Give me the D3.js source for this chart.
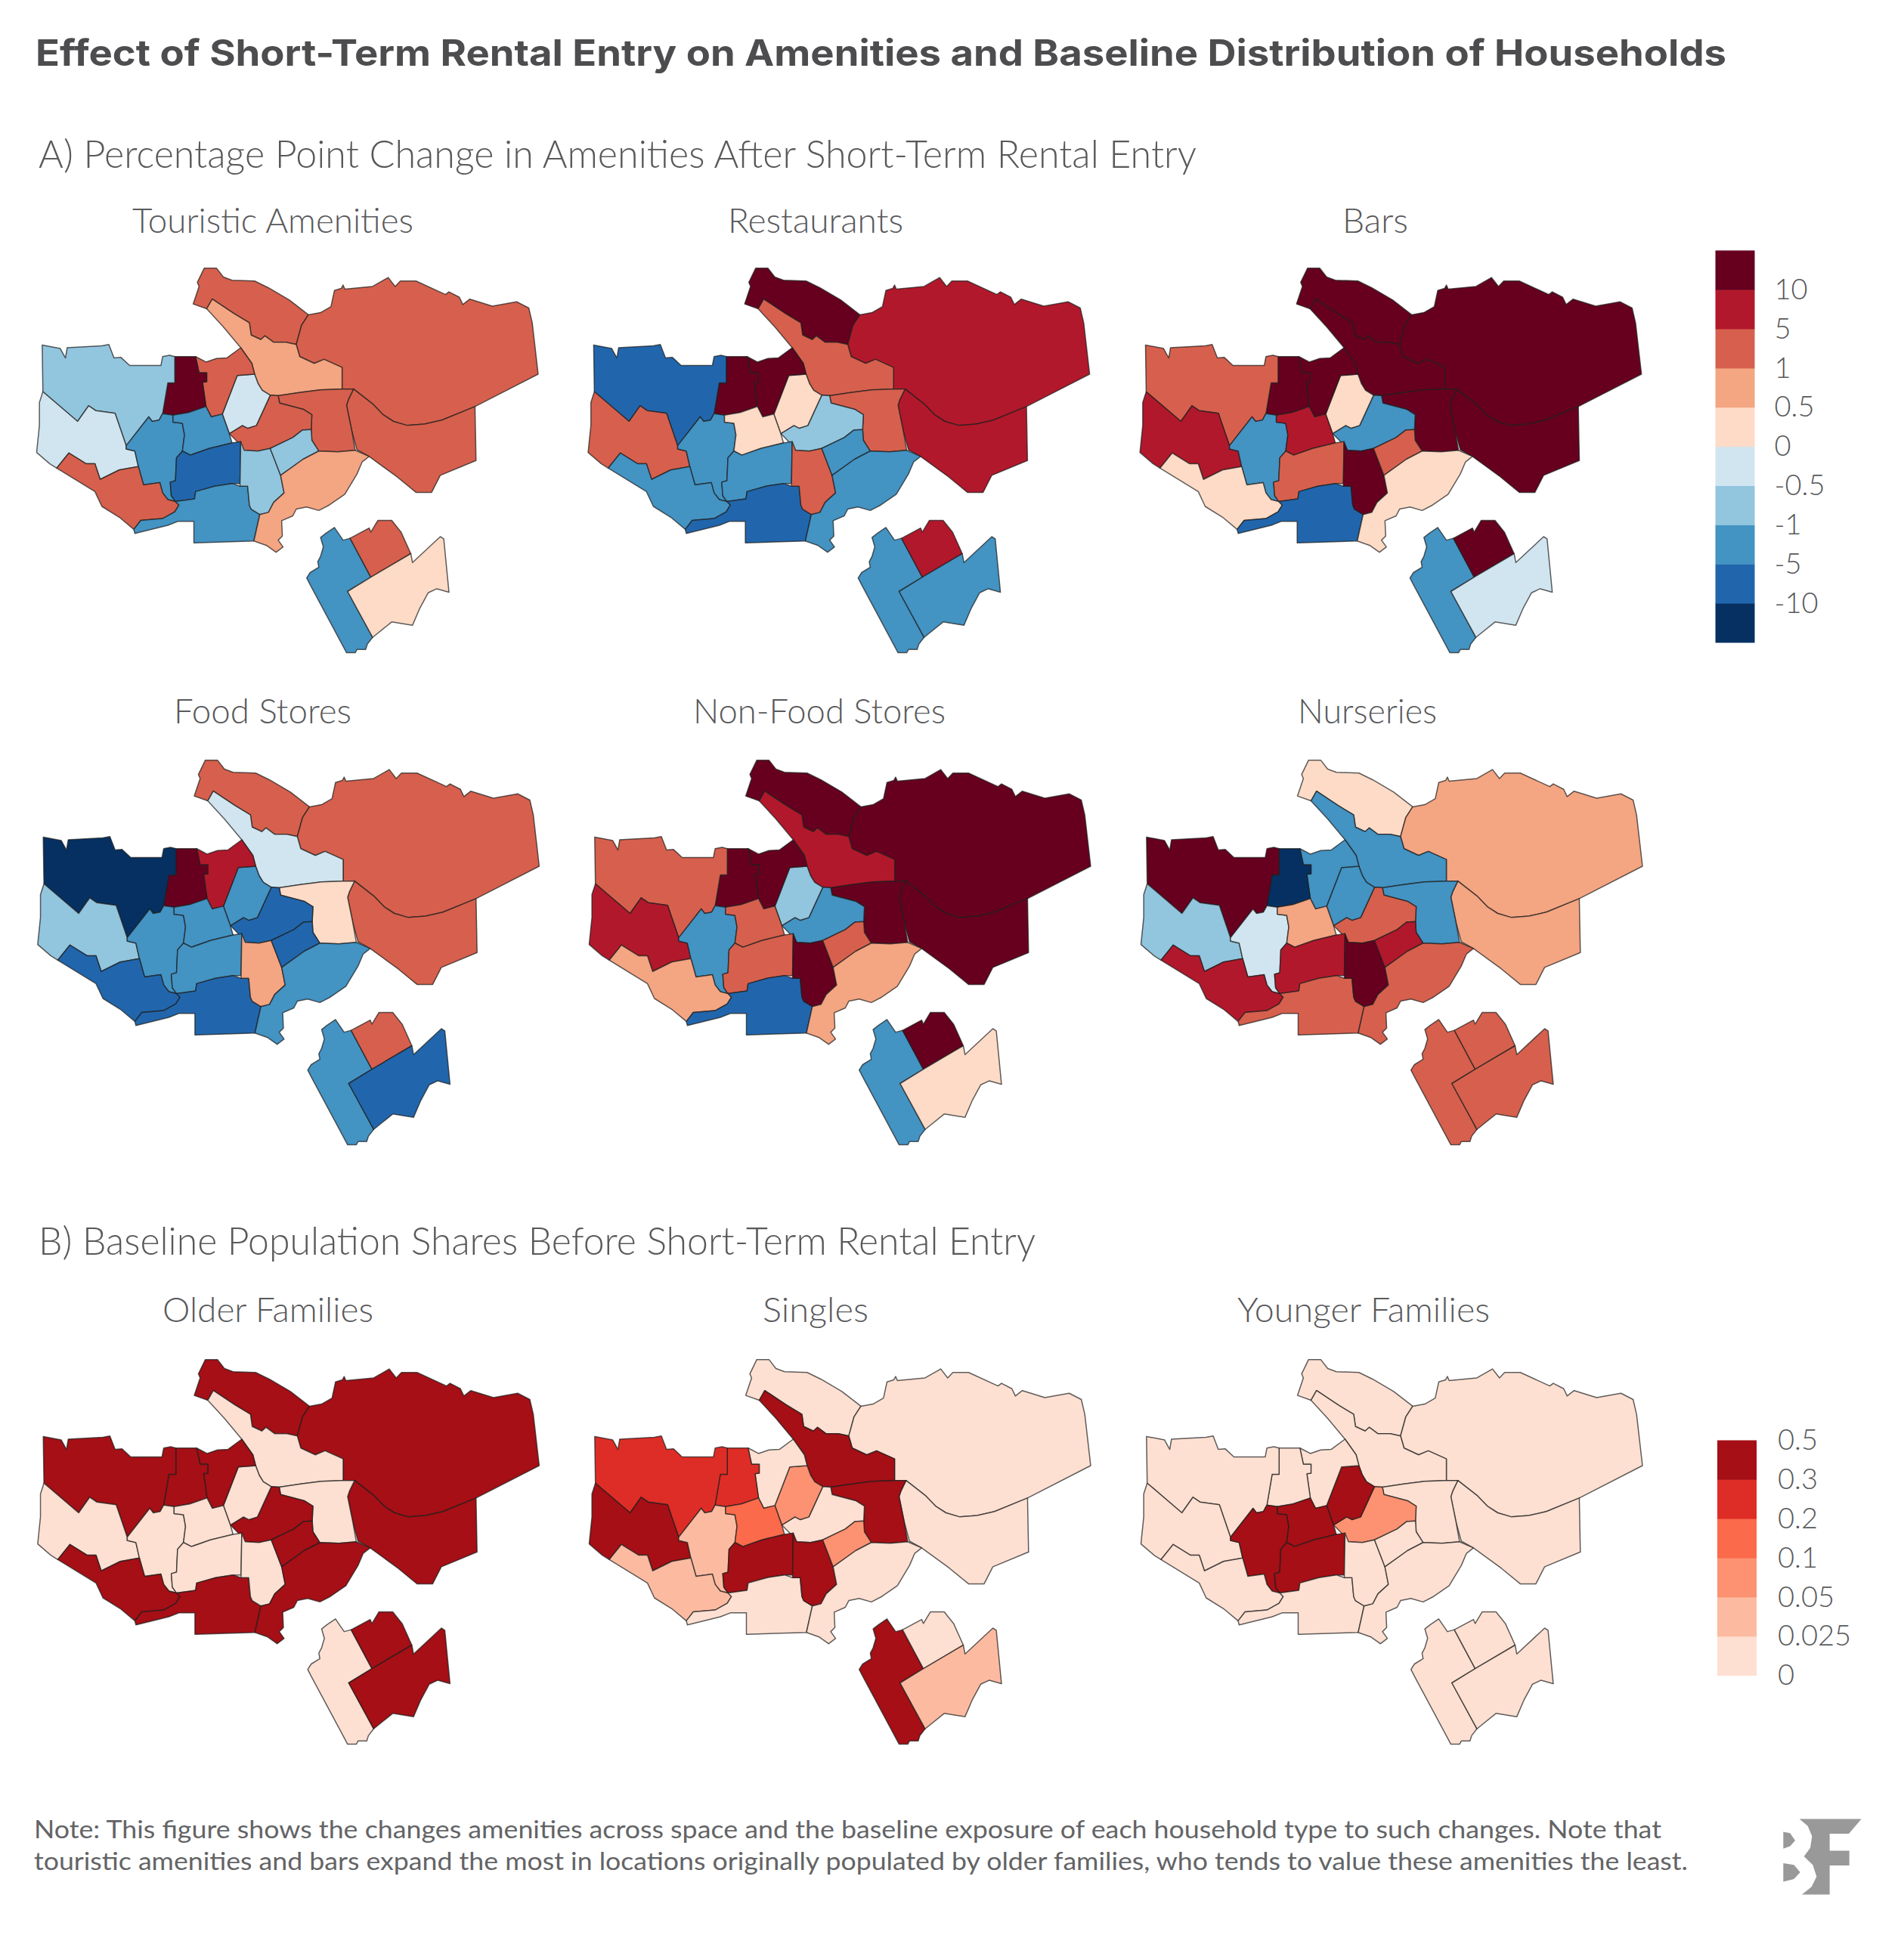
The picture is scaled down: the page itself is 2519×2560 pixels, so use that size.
<!DOCTYPE html>
<html>
<head>
<meta charset="utf-8">
<script src="https://cdn.jsdelivr.net/npm/d3@7"></script>
<style>
  body { margin: 0; background: #fff; }
  text { font-family: Lato, "Noto Sans", sans-serif; font-weight: 300; fill: #58595b; }
  .title { font-family: Inter, Lato, sans-serif; font-weight: 700; font-size: 48px; fill: #4d4d4f; }
  .section { font-size: 52px; }
  .panel-title { font-size: 46px; }
  .note { font-size: 33px; font-weight: 400; fill: #636466; }
  .legend text { font-size: 38px; fill: #58595b; }
  .region { stroke: #1c1c1c; stroke-opacity: .7; stroke-width: 1.5px; stroke-linejoin: round; }
</style>
</head>
<body>
<div id="chart"></div>
<script>
// neighbourhood order used by every value list below
const regionNames = ['north strip', 'north-east', 'coast strip', 'east', 'centre east', 'centre ring',
    'centre north', 'upper centre', 'centre column', 'north-west', 'west', 'inner west', 'core north',
    'core', 'south-west', 'south', 'core south', 'inner south', 'south-east',
    'island west', 'island north', 'island east'];

const touristic = [3, 3, .75, 3, 3, 3, -.25, 3, 12, -.75, -.25, -3, -3, -7, 3, -3, -.75, -.75, .75, -3, 3, .25];
const restaurants = [12, 7, 3, 7, 3, -.75, .25, 12, 12, -7, 3, -3, .25, -3, -3, -7, 3, -3, -3, -3, 7, -3];
const bars = [12, 12, 12, 12, 12, -3, .25, 12, 12, 3, 7, -3, 7, 3, .25, -7, 12, 3, .25, -3, 12, -.25];
const foodStores = [3, 3, -.25, 3, .25, -7, -3, 7, 12, -12, -.75, -3, -3, -3, -7, -7, .75, -7, -3, -3, 3, -7];
const nonFoodStores = [12, 12, 7, 12, 12, -3, -.75, 12, 12, 3, 7, -3, 3, 3, .75, -7, 12, 3, .75, -3, 12, .25];
const nurseries = [.25, .75, -3, .75, -3, 3, -3, -3, -12, 12, -.75, -.25, .75, 7, 7, 3, 12, 7, 3, 3, 3, 3];
const olderFamilies = [.4, .4, 0, .4, 0, .4, 0, .4, .4, .4, 0, 0, 0, 0, .4, .4, 0, .4, .4, 0, .4, .4];
const singles = [.01, .01, .4, .01, .4, .01, .07, .01, .25, .25, .4, .035, .15, .4, .035, .01, .4, .07, .01, .4, .01, .035];
const youngerFamilies = [.01, .01, .01, .01, .01, .07, .4, .01, .01, .01, .01, .4, .4, .4, .01, .01, .01, .01, .01, .01, .01, .01];

const changeBreaks = [-10, -5, -1, -.5, 0, .5, 1, 5, 10];
const changeLabels = ['-10', '-5', '-1', '-0.5', '0', '0.5', '1', '5', '10'];
const changeColors = ['#053061', '#2166ac', '#4393c3', '#92c5de', '#d1e5f0', '#fddbc7', '#f4a582', '#d6604d', '#b2182b', '#67001f'];
const shareBreaks = [.025, .05, .1, .2, .3];
const shareLabels = ['0', '0.025', '0.05', '0.1', '0.2', '0.3', '0.5'];
const shareColors = ['#fee0d2', '#fcbba1', '#fc9272', '#fb6a4a', '#de2d26', '#a50f15'];

// outlines in map units, shared borders repeat the same vertices
const outlines = [
    [[513,230],[530,165],[525,150],[545,97],[580,97],[600,130],[625,142],[690,145],[730,170],[790,215],[845,270],[825,310],[810,380],[780,372],[745,372],[720,348],[708,362],[680,345],[675,300],[630,265],[568,212],[552,248]],
    [[845,270],[880,262],[910,240],[920,180],[940,172],[945,160],[950,175],[1030,165],[1075,132],[1095,165],[1110,145],[1155,145],[1240,195],[1250,185],[1280,205],[1290,232],[1310,212],[1375,238],[1445,222],[1480,245],[1490,300],[1507,490],[1325,610],[1230,660],[1180,675],[1130,680],[1090,665],[1060,640],[1030,600],[975,545],[942,545],[942,465],[890,435],[862,450],[820,425],[810,380],[825,310]],
    [[568,212],[630,265],[675,300],[680,345],[708,362],[720,348],[745,372],[780,372],[810,380],[820,425],[862,450],[890,435],[942,465],[942,545],[880,548],[820,558],[758,570],[735,568],[712,550],[700,525],[690,490],[682,450],[650,392],[600,315],[552,248]],
    [[975,545],[1030,600],[1060,640],[1090,665],[1130,680],[1180,675],[1230,660],[1325,610],[1328,810],[1225,865],[1200,928],[1155,928],[1100,870],[1020,795],[985,770],[970,700],[955,605],[960,585]],
    [[758,570],[820,558],[880,548],[942,545],[975,545],[960,585],[955,605],[970,700],[980,772],[930,778],[875,775],[855,735],[853,695],[855,640],[830,620],[762,597]],
    [[735,568],[758,570],[762,597],[830,620],[855,640],[853,695],[828,697],[800,725],[735,765],[700,775],[660,772],[640,740],[617,710],[655,680],[670,690],[695,680]],
    [[640,495],[690,490],[700,525],[712,550],[735,568],[695,680],[670,690],[655,680],[617,710],[597,638]],
    [[520,425],[550,445],[580,432],[610,430],[650,392],[682,450],[690,490],[640,495],[597,638],[565,648],[550,610],[540,520],[552,518],[552,485],[530,485]],
    [[460,425],[520,425],[530,485],[552,485],[552,518],[540,520],[550,610],[500,632],[455,642],[425,636],[440,522],[460,522]],
    [[78,382],[130,395],[145,430],[150,392],[250,385],[270,380],[285,430],[305,428],[330,458],[420,458],[425,425],[445,420],[460,425],[460,522],[440,522],[425,636],[415,660],[395,665],[385,648],[320,755],[288,635],[232,625],[212,607],[180,665],[80,555]],
    [[80,555],[180,665],[212,607],[232,625],[288,635],[320,755],[320,767],[345,775],[355,832],[300,845],[245,880],[230,822],[205,822],[155,782],[120,838],[100,822],[62,780],[70,680],[70,595]],
    [[385,648],[395,665],[415,660],[425,636],[455,642],[455,668],[482,672],[488,715],[482,775],[465,800],[462,885],[447,890],[450,940],[462,962],[440,955],[425,930],[417,892],[370,900],[355,832],[345,775],[320,767],[320,755]],
    [[455,642],[500,632],[550,610],[565,648],[597,638],[617,710],[625,745],[560,765],[505,790],[482,775],[488,715],[482,672],[455,668]],
    [[482,775],[505,790],[560,765],[625,745],[650,740],[648,895],[625,895],[575,905],[520,925],[517,952],[462,962],[450,940],[447,890],[462,885],[465,800]],
    [[120,838],[155,782],[205,822],[230,822],[245,880],[300,845],[355,832],[370,900],[417,892],[425,930],[440,955],[462,962],[472,975],[460,1000],[425,1025],[362,1032],[342,1065],[300,1020],[250,980],[230,925]],
    [[342,1065],[362,1032],[425,1025],[460,1000],[472,975],[462,962],[517,952],[520,925],[575,905],[625,895],[648,905],[670,905],[675,975],[680,990],[705,1010],[688,1108],[515,1115],[515,1035],[470,1035],[440,1050],[345,1080]],
    [[650,740],[660,772],[700,775],[735,765],[750,815],[765,865],[775,930],[745,965],[730,1002],[705,1010],[680,990],[675,975],[670,905],[648,905],[648,895]],
    [[735,765],[800,725],[828,697],[853,695],[855,735],[875,775],[830,805],[765,865],[750,815]],
    [[765,865],[830,805],[875,775],[930,778],[980,772],[1020,795],[1000,815],[985,860],[950,935],[905,975],[875,995],[840,982],[810,990],[800,1015],[768,1033],[770,1090],[758,1105],[772,1130],[752,1150],[725,1125],[688,1108],[705,1010],[730,1002],[745,965],[775,930]],
    [[880,1095],[895,1080],[920,1058],[945,1105],[965,1098],[1025,1242],[958,1295],[1030,1465],[1015,1490],[1010,1510],[985,1510],[980,1522],[955,1522],[850,1270],[840,1245],[850,1225],[875,1205],[872,1185],[880,1165],[888,1130]],
    [[965,1098],[1020,1060],[1025,1075],[1045,1032],[1085,1032],[1112,1075],[1140,1155],[1025,1242]],
    [[1025,1242],[1140,1155],[1145,1188],[1225,1092],[1235,1100],[1250,1298],[1215,1285],[1190,1300],[1165,1360],[1145,1420],[1085,1408],[1030,1465],[958,1295]]
];

const logoBar = [[602,1224],[848,1224],[798,1268],[722,1268],[722,1318],[800,1318],[800,1362],[722,1362],[722,1448],[612,1448],[650,1425],[670,1395],[655,1360],[620,1335],[645,1310],[652,1275],[635,1245]];
const logoUpper = [[538,1262],[565,1266],[585,1288],[565,1305],[538,1312]];
const logoLower = [[538,1355],[580,1360],[605,1382],[580,1402],[538,1410]];

const width = 2519, height = 2560;

const svg = d3.select('#chart').append('svg')
    .attr('width', width)
    .attr('height', height);

// text helper, squeezes the installed font to the width measured on the reference
function addText(cls, x, y, label, textWidth) {
    return svg.append('text')
        .attr('class', cls)
        .attr('x', x)
        .attr('y', y)
        .attr('textLength', textWidth)
        .attr('lengthAdjust', 'spacingAndGlyphs')
        .text(label);
}

addText('title', 47, 87, 'Effect of Short-Term Rental Entry on Amenities and Baseline Distribution of Households', 2237);
addText('section', 51, 222, 'A) Percentage Point Change in Amenities After Short-Term Rental Entry', 1532);
addText('section', 51, 1660, 'B) Baseline Population Shares Before Short-Term Rental Entry', 1319);
addText('note', 45, 2432, 'Note: This figure shows the changes amenities across space and the baseline exposure of each household type to such changes. Note that', 2153);
addText('note', 45, 2474, 'touristic amenities and bars expand the most in locations originally populated by older families, who tends to value these amenities the least.', 2188);

let changeColor = d3.scaleThreshold().domain(changeBreaks).range(changeColors),
    shareColor = d3.scaleThreshold().domain(shareBreaks).range(shareColors);

// map units to pixels
let mapX = d3.scaleLinear().domain([0, 1568]).range([20, 740]),
    mapY = d3.scaleLinear().domain([0, 1568]).range([320, 880]);

let mapPath = d3.geoPath(d3.geoTransform({
    point: function (x, y) {
        this.stream.point(mapX(x), mapY(y));
    }
}));

let features = outlines.map(function (ring, i) {
    return {
        type: 'Feature',
        properties: {name: regionNames[i]},
        geometry: {type: 'Polygon', coordinates: [ring.concat([ring[0]])]}
    };
});

function make_map(values, color, dx, dy, label, labelX, labelY, labelWidth) {
    let g = svg.append('g')
        .attr('transform', 'translate(' + dx + ',' + dy + ')');

    g.selectAll('path').data(features)
        .enter()
        .append('path')
        .attr('class', 'region')
        .attr('d', mapPath)
        .attr('fill', function (d, i) {
            return color(values[i]);
        });

    addText('panel-title', labelX, labelY, label, labelWidth);
}

make_map(touristic, changeColor, 0, 0, 'Touristic Amenities', 175, 308, 372);
make_map(restaurants, changeColor, 729.6, 0, 'Restaurants', 963, 308, 232);
make_map(bars, changeColor, 1459.7, 0, 'Bars', 1776, 308, 87);
make_map(foodStores, changeColor, 1.4, 651, 'Food Stores', 230, 957, 235);
make_map(nonFoodStores, changeColor, 731, 651, 'Non-Food Stores', 917, 957, 334);
make_map(nurseries, changeColor, 1461, 651, 'Nurseries', 1717, 957, 184);
make_map(olderFamilies, shareColor, 1.4, 1444, 'Older Families', 215, 1749, 279);
make_map(singles, shareColor, 731, 1444, 'Singles', 1009, 1749, 140);
make_map(youngerFamilies, shareColor, 1461, 1444, 'Younger Families', 1637, 1749, 334);

// colour keys, labels sit on the swatch borders
function make_legend(colors, labels, x, top, labelOffset, firstLabel) {
    let stepSize = 51.85;
    let y = d3.scaleLinear()
        .domain([0, colors.length])
        .range([top + colors.length * stepSize, top]);

    let legend = svg.append('g').attr('class', 'legend');

    legend.selectAll('rect').data(colors)
        .enter()
        .append('rect')
        .attr('x', x)
        .attr('width', 52)
        .attr('y', function (d, i) { return y(i + 1); })
        .attr('height', stepSize + .5)
        .attr('fill', function (d) { return d; });

    let axis = d3.axisRight(y)
        .tickValues(labels.map(function (d, i) { return i + firstLabel; }))
        .tickFormat(function (d) { return labels[d - firstLabel]; })
        .tickSize(0)
        .tickPadding(labelOffset);

    let axisGroup = legend.append('g')
        .attr('transform', 'translate(' + (x + 52) + ',0)')
        .call(axis);
    axisGroup.select('.domain').remove();
    axisGroup.attr('font-family', null).attr('font-size', null);
}

make_legend(changeColors, changeLabels, 2269.5, 331.4, 26, 1);
make_legend(shareColors, shareLabels, 2272, 1905.5, 28, 0);

// logo
let logoLine = d3.line()
    .x(function (d) { return 2180 + d[0] / 3; })
    .y(function (d) { return 1860 + d[1] / 2.24; })
    .curve(d3.curveLinearClosed);

svg.append('g').selectAll('path')
    .data([logoBar, logoUpper, logoLower])
    .enter()
    .append('path')
    .attr('d', logoLine)
    .attr('fill', '#999999');
</script>
</body>
</html>
